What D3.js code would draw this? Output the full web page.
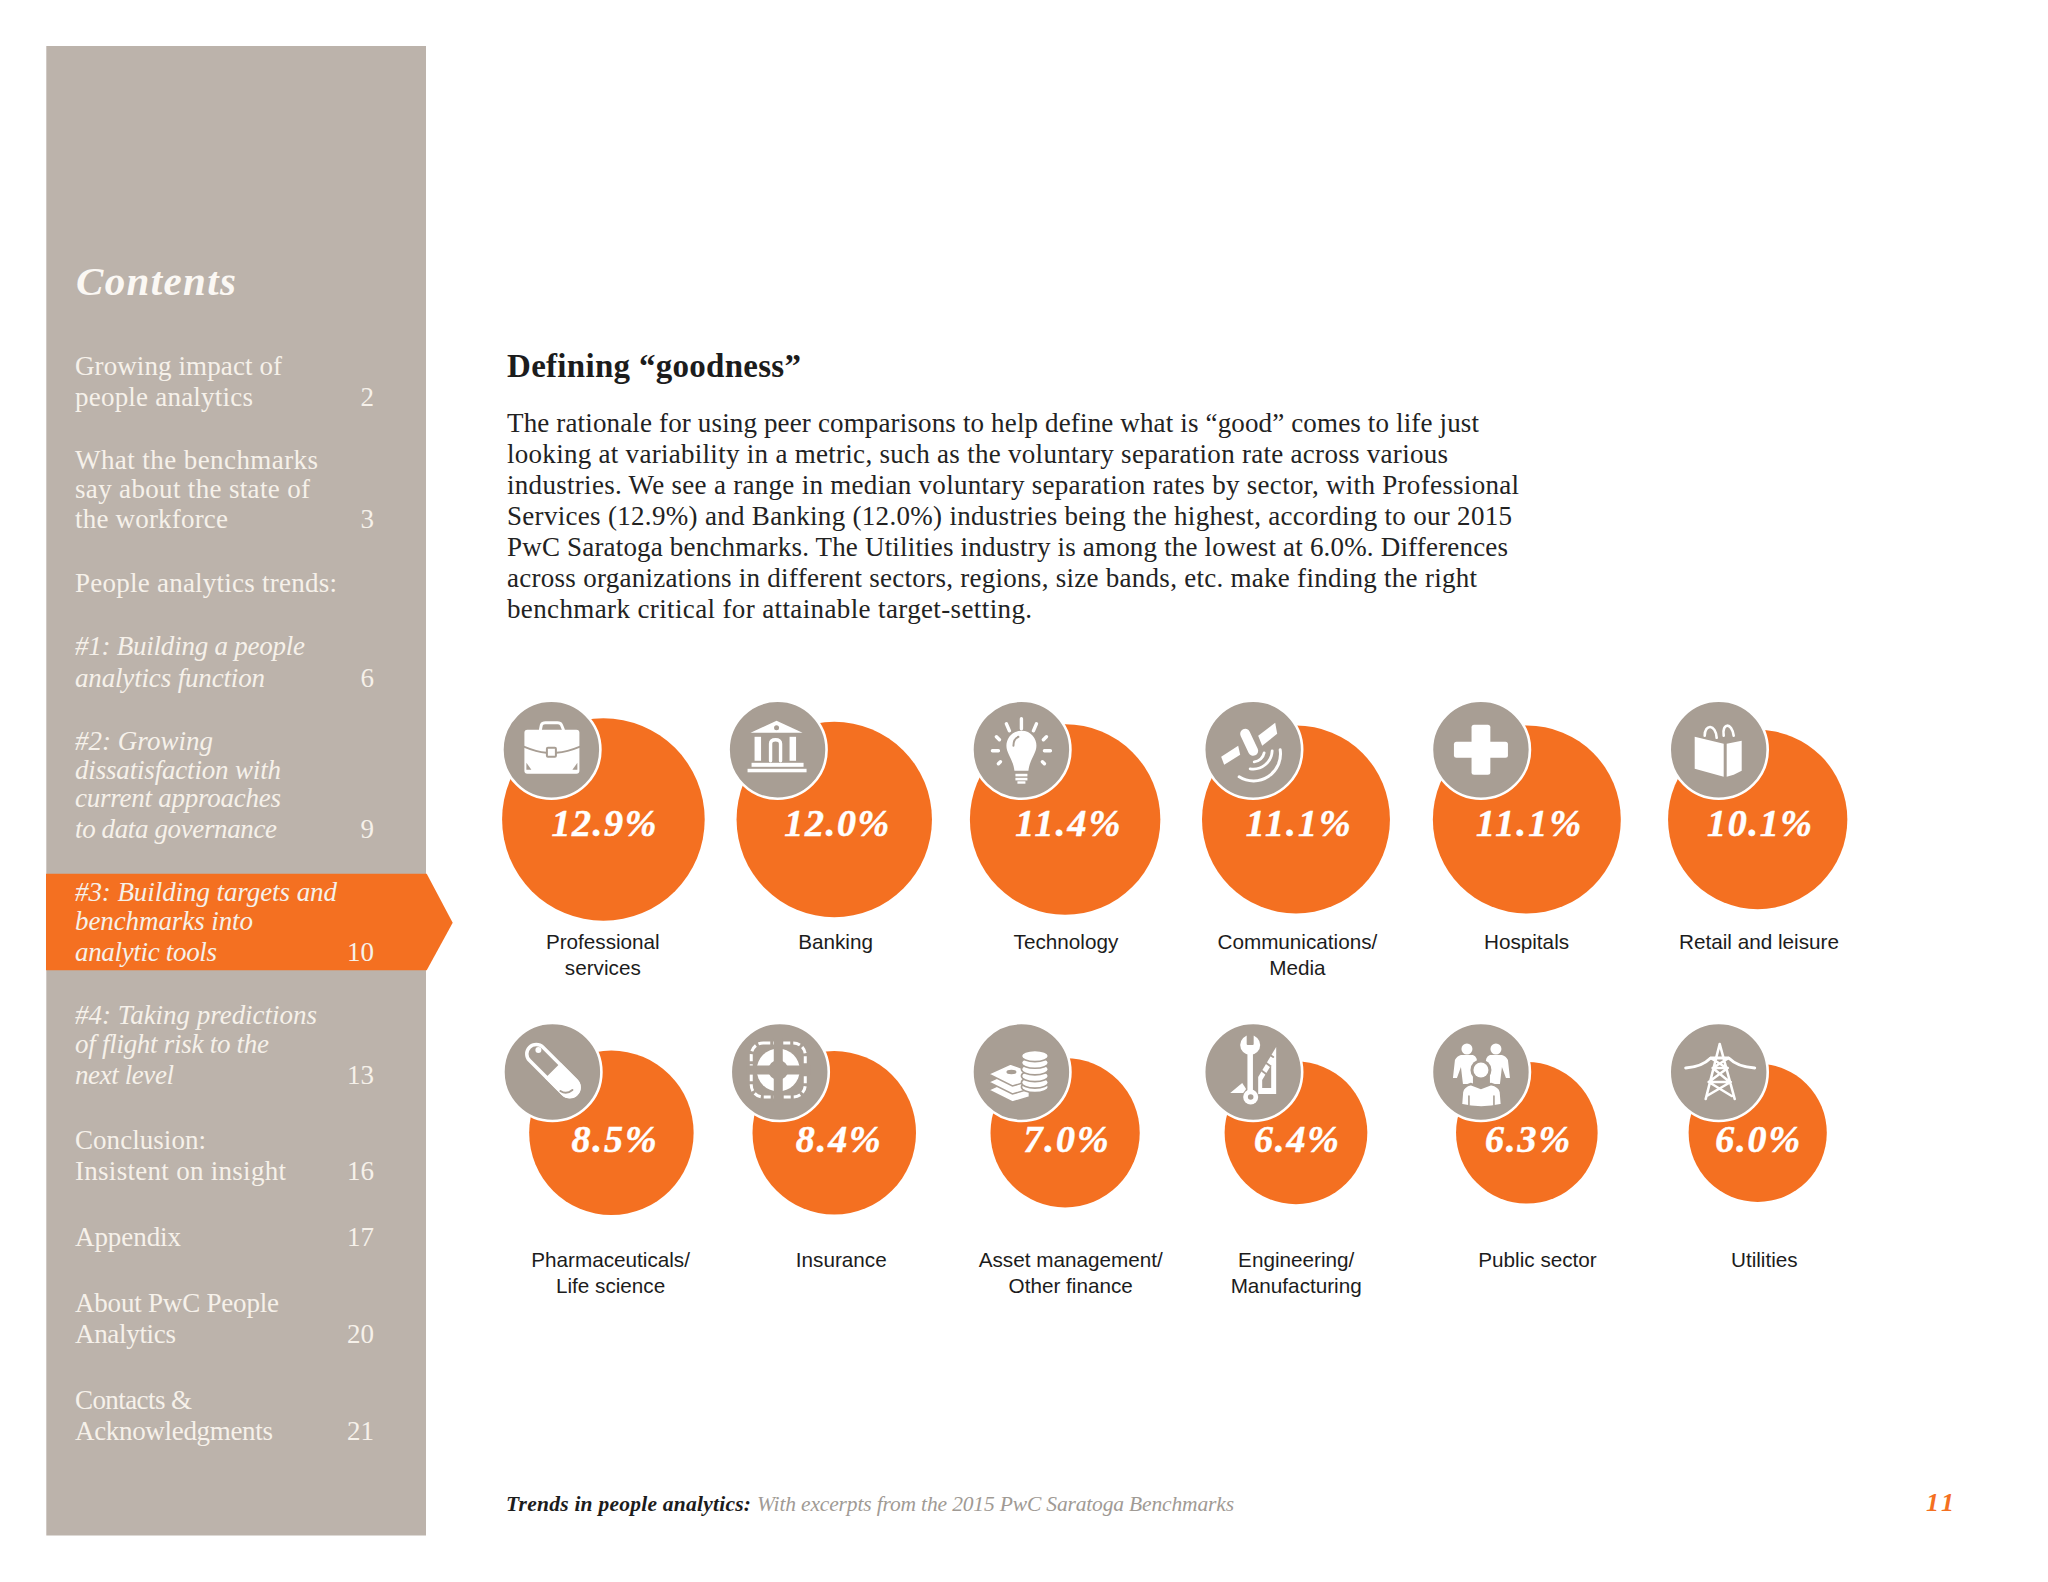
<!DOCTYPE html>
<html><head><meta charset="utf-8">
<script src="https://cdn.jsdelivr.net/npm/d3@7/dist/d3.min.js"></script>
<style>html,body{margin:0;padding:0;background:#fff}svg{display:block}</style>
</head><body><div id="chart"></div>
<script>
// ---------- data ----------
const categories = ["Professional services","Banking","Technology","Communications/ Media","Hospitals","Retail and leisure",
  "Pharmaceuticals/ Life science","Insurance","Asset management/ Other finance","Engineering/ Manufacturing","Public sector","Utilities"];
const labelLines = [["Professional","services"],["Banking"],["Technology"],["Communications/","Media"],["Hospitals"],["Retail and leisure"],
  ["Pharmaceuticals/","Life science"],["Insurance"],["Asset management/","Other finance"],["Engineering/","Manufacturing"],["Public sector"],["Utilities"]];
const values = [12.9,12.0,11.4,11.1,11.1,10.1,8.5,8.4,7.0,6.4,6.3,6.0];
const icons = ["briefcase","bank","bulb","satellite","plus","bag","pill","buoy","money","tools","people","tower"];
const headingText = "Defining “goodness”";
const bodyLines = [
 "The rationale for using peer comparisons to help define what is “good” comes to life just",
 "looking at variability in a metric, such as the voluntary separation rate across various",
 "industries. We see a range in median voluntary separation rates by sector, with Professional",
 "Services (12.9%) and Banking (12.0%) industries being the highest, according to our 2015",
 "PwC Saratoga benchmarks. The Utilities industry is among the lowest at 6.0%. Differences",
 "across organizations in different sectors, regions, size bands, etc. make finding the right",
 "benchmark critical for attainable target-setting."];
const tocLines = ["Growing impact of","people analytics","What the benchmarks","say about the state of","the workforce",
 "People analytics trends:","#1: Building a people","analytics function","#2: Growing","dissatisfaction with","current approaches",
 "to data governance","#3: Building targets and","benchmarks into","analytic tools","#4: Taking predictions","of flight risk to the",
 "next level","Conclusion:","Insistent on insight","Appendix","About PwC People","Analytics","Contacts &","Acknowledgments"];
const tocPages = ["","2","","","3","","","6","","","","9","","","10","","","13","","16","17","","20","","21"];
const tocItalic = [0,0,0,0,0,0,1,1,1,1,1,1,1,1,1,1,1,1,0,0,0,0,0,0,0];

// ---------- layout ----------
const tocBase = [375,406,469.3,497.7,528,591.7,655,686.5,750,778.5,806.7,837.7,901,929.5,960.5,1023.5,1052.5,1083.5,1149,1180,1246,1311.7,1342.7,1409,1440];
const tocW = [207,178,243,235,153,262,230,190,138,206,206,202,262,178,142,242,194,99,131,211,106,204,101,117,198];
const bodyW = [972,941,1012,1005,1001,970,525];
const bodyBase = [431.7,462.7,494,525,556,587,618];
const circleNudge = [0,0,0,0,0,0,8,0,0,0,0,0];
const iconDx = [-52,-56.7,-43.7,-42.8,-45.9,-39,-51,-54.5,-43.7,-42.8,-45.9,-39];
const valueDx = [0.5,2.5,2.7,2.3,1.7,1.8,2.7,4,1,0.5,0.7,0];
const labelDx = [-0.6,1.3,0.8,1.4,-0.3,1.3,-0.8,7,5.6,0.2,10.7,6.6];
const rowIconY = [749.8,1072], rowValueY = [835.5,1152], rowLabelY = [949,1266.7];
const ORANGE = "#f47021", SIDE = "#bcb3ab", ICON = "#a89e94", PALE = "#f6f1ea";
const SERIF = "'Liberation Serif',serif", SANS = "'Liberation Sans',Arial,sans-serif";

const svg = d3.select("#chart").append("svg").attr("width",2048).attr("height",1582).attr("viewBox","0 0 2048 1582");
const colX = d3.scalePoint().domain(d3.range(6)).range([603.4,1757.7]);
const rowY = d3.scalePoint().domain([0,1]).range([819.5,1132.8]);
const rScale = d3.scaleSqrt().domain([0,12.9]).range([0,101.3]);

// ---------- sidebar ----------
svg.append("rect").attr("x",46.3).attr("y",46).attr("width",379.7).attr("height",1489.5).attr("fill",SIDE);
svg.append("path").attr("d","M46,873.7H426.7L452.7,922.7L426.7,970.3H46Z").attr("fill",ORANGE);
svg.append("text").text("Contents").attr("x",76).attr("y",295).attr("textLength",160).attr("lengthAdjust","spacing")
  .attr("font-family",SERIF).attr("font-size",41).attr("font-weight",700).attr("font-style","italic").attr("fill","#fbf8f4");
const toc = svg.append("g").attr("font-family",SERIF).attr("font-size",27);
toc.selectAll("text.l").data(tocLines).join("text").attr("class","l").text(d=>d)
  .attr("x",75).attr("y",(d,i)=>tocBase[i]).attr("textLength",(d,i)=>tocW[i]).attr("lengthAdjust","spacing")
  .attr("font-style",(d,i)=>tocItalic[i]?"italic":"normal").attr("fill",PALE);
toc.selectAll("text.p").data(tocPages).join("text").attr("class","p").text(d=>d)
  .attr("x",374).attr("y",(d,i)=>tocBase[i]).attr("text-anchor","end").attr("fill",PALE);

// ---------- text block ----------
svg.append("text").text(headingText).attr("x",507).attr("y",377.3).attr("textLength",294).attr("lengthAdjust","spacing")
  .attr("font-family",SERIF).attr("font-size",33).attr("font-weight",700).attr("fill","#1c1c1c");
svg.append("g").attr("font-family",SERIF).attr("font-size",27).attr("fill","#222")
  .selectAll("text").data(bodyLines).join("text").text(d=>d)
  .attr("x",507).attr("y",(d,i)=>bodyBase[i]).attr("textLength",(d,i)=>bodyW[i]).attr("lengthAdjust","spacing");

// ---------- icons ----------
const W = "#fff";
const P = (g,d,fill=W)=>g.append("path").attr("d",d).attr("fill",fill);
const S = (g,d,w,stroke=W)=>g.append("path").attr("d",d).attr("fill","none").attr("stroke",stroke).attr("stroke-width",w).attr("stroke-linecap","round").attr("stroke-linejoin","round");
const C = (g,x,y,r,fill=W)=>g.append("circle").attr("cx",x).attr("cy",y).attr("r",r).attr("fill",fill);
const R = (g,x,y,w,h,rx=0,fill=W)=>g.append("rect").attr("x",x).attr("y",y).attr("width",w).attr("height",h).attr("rx",rx).attr("fill",fill);
const drawIcon = {
  briefcase(g){
    S(g,"M-11,-20L-10,-25Q-9,-27 -6,-27H6Q9,-27 10,-25L12,-20",3);
    R(g,-27,-20,55,44,3);
    S(g,"M-27,-3Q-15,2 -5,3M5,3Q16,2 28,-3",2,ICON);
    R(g,-4.5,-2,9,9,1,W).attr("stroke",ICON).attr("stroke-width",2);
    P(g,"M-25,20L-25,13L-20,20Z",ICON); P(g,"M26,20L26,13L21,20Z",ICON);
  },
  bank(g){
    P(g,"M-1,-29L25,-17H-27Z"); C(g,-1,-22,2.5,ICON);
    R(g,-23,-13,6.5,24); R(g,12,-13,6.5,24);
    S(g,"M-7,11V-6Q-7,-10 -2,-10Q3,-10 3,-6V11",3.4);
    R(g,-26,13,52,4); R(g,-30,19,59,3.5);
  },
  bulb(g){
    P(g,"M0,-19C-10,-19 -15,-11 -15,-4C-15,4 -8,10 -7,21H7C8,10 15,4 15,-4C15,-11 10,-19 0,-19Z");
    S(g,"M-8,-4Q-8,-11 -3,-13",2,ICON);
    R(g,-6,24,12,2.6); R(g,-6,28,12,2.6); R(g,-4,31.5,8,2.4);
    S(g,"M0,-31V-21M-15,-26L-12,-19M15,-26L12,-19M-25,-13L-22,-10M25,-13L22,-10M-29,1H-23M29,1H23M-23,14L-21,12M23,14L21,12",3.4);
  },
  satellite(g){
    P(g,"M5,-14L22,-27L24,-16L9,-4Z"); P(g,"M-32,7L-15,-4L-13,5L-29,15Z");
    S(g,"M-8,-16L0,1",10);
    S(g,"M11,3A11,11 0 0 1 1,12",2.8); S(g,"M19,1A19,19 0 0 1 -3,19",2.8); S(g,"M27,0A27,27 0 0 1 -14,27",3);
  },
  plus(g){ R(g,-27,-8,54,16,2.5); R(g,-9.4,-25,18.8,50,2.5); },
  bag(g){
    S(g,"M-14,-14C-14,-26 -3,-26 -2,-12M5,-14C3,-27 13,-28 15,-14",2.6);
    P(g,"M-24,-13L5,-6V27L-24,19Z"); P(g,"M8,-6L23,-9V21L15,25L8,27Z");
  },
  pill(g){
    const c = g.append("g").attr("transform","translate(0.5,-1.5) rotate(45)");
    R(c,-33,-9.5,66,19,9.5).attr("fill","none").attr("stroke",W).attr("stroke-width",3.5);
    P(c,"M0,-11H24A11,11 0 0 1 24,11H0Z");
    C(g,-14,-22,3);
    S(g,"M8,19Q14,23 20,18",2,ICON);
  },
  buoy(g){
    const c = g.append("g").attr("transform","translate(-1.5,-2)");
    R(c,-27,-27,54,54,12).attr("fill","none").attr("stroke",W).attr("stroke-width",3).attr("stroke-dasharray","7 3");
    C(c,0,0,21.5,W);
    R(c,-4.5,-32,9,64,0,ICON); R(c,-32,-4.5,64,9,0,ICON);
    C(c,0,0,10,ICON);
  },
  money(g){
    [16,8,0].forEach(dy=>{
      P(g,`M-33,${2+dy}L-11,${-8+dy}L8,${-1+dy}V${9+dy}L-9,${14+dy}Z`).attr("stroke",ICON).attr("stroke-width",1.5);
    });
    g.append("ellipse").attr("cx",-10).attr("cy",0).attr("rx",5).attr("ry",2.2).attr("fill",ICON);
    [15,10.5,4,-2.7,-9.3,-16].forEach(y=>{
      g.append("ellipse").attr("cx",13.5).attr("cy",y).attr("rx",13.5).attr("ry",5.6).attr("fill",W).attr("stroke",ICON).attr("stroke-width",1.6);
    });
  },
  tools(g){
    P(g,"M23,-25V22H5V5Z");
    P(g,"M18,-7V16H9V8Z",ICON);
    S(g,"M9,-1L13,2M13,-9L17,-6M17,-17L20,-15",2,ICON);
    P(g,"M-23,21L-11,11L-7,17L-10,21Z");
    R(g,-6.5,-22,7,46,0,W).attr("stroke",ICON).attr("stroke-width",1.5);
    C(g,-3,-27,10); R(g,-6.5,-42,7,15,1,ICON);
    C(g,-2.5,25,7.5); C(g,-2.5,25,2.8,ICON);
  },
  people(g){
    C(g,-14,-23,5.5); C(g,15,-23,5.5);
    const back = "M-28,6L-26,-12Q-24,-16 -20,-17H-8Q-3,-15 -4,-8L-8,0V12H-18L-20,-5L-24,6Z";
    P(g,back); P(g,back).attr("transform","translate(1,0) scale(-1,1)");
    C(g,0,-2,10.5,ICON); C(g,0,-2,7.5);
    P(g,"M-20,33L-19,20Q-18,14 -10,12L0,16L10,12Q19,14 20,20L21,33Q0,38 -20,33Z").attr("stroke",ICON).attr("stroke-width",2.5);
    S(g,"M-12,24V33M13,24V33",1.6,ICON);
  },
  tower(g){
    S(g,"M-33,-4Q-17,-5 -8,-14H10Q19,-5 36,-4",3);
    S(g,"M1,-28L-13,27M1,-28L16,27M-8,-14L8,-4M10,-14L-6,-4M-6,-4L11,10M9,-4L-10,10M-10,10L13,24M12,10L-12,24M-6,-4H9M-10,10H12",2.6);
  }
};

// ---------- bubbles ----------
const items = values.map((v,i)=>({v,i,cat:categories[i],col:i%6,row:Math.floor(i/6)}));
const plot = svg.append("g");
plot.selectAll("circle.bubble").data(items).join("circle").attr("class","bubble")
  .attr("cx",d=>colX(d.col)+circleNudge[d.i]).attr("cy",d=>rowY(d.row)).attr("r",d=>rScale(d.v)).attr("fill",ORANGE);

plot.selectAll("g.icon").data(items).join("g").attr("class","icon")
  .attr("transform",d=>`translate(${colX(d.col)+iconDx[d.i]},${rowIconY[d.row]})`)
  .each(function(d){
    const g = d3.select(this);
    g.append("circle").attr("r",49).attr("fill",ICON).attr("stroke","#fff").attr("stroke-width",2.6);
    drawIcon[icons[d.i]](g);
  });

plot.selectAll("text.value").data(items).join("text").attr("class","value").text(d=>d.v.toFixed(1)+"%")
  .attr("x",d=>colX(d.col)+circleNudge[d.i]+valueDx[d.i]).attr("y",d=>rowValueY[d.row]).attr("text-anchor","middle")
  .attr("textLength",d=>d.v>=10?105:85).attr("lengthAdjust","spacing")
  .attr("font-family",SERIF).attr("font-size",38).attr("font-weight",700).attr("font-style","italic")
  .attr("fill","#fff").attr("stroke","#fff").attr("stroke-width",0.5);

plot.selectAll("text.cat").data(items).join("text").attr("class","cat")
  .attr("text-anchor","middle").attr("font-family",SANS).attr("font-size",20.7).attr("fill","#1c1c1c")
  .each(function(d){
    d3.select(this).selectAll("tspan").data(labelLines[d.i]).join("tspan").text(t=>t)
      .attr("x",colX(d.col)+circleNudge[d.i]+labelDx[d.i]).attr("y",(t,j)=>rowLabelY[d.row]+j*26);
  });

// ---------- footer ----------
const foot = svg.append("g").attr("font-family",SERIF).attr("font-style","italic").attr("font-size",21.5);
foot.append("text").text("Trends in people analytics:").attr("x",506).attr("y",1510.7).attr("textLength",245).attr("lengthAdjust","spacing").attr("font-weight",700).attr("fill","#1c1c1c");
foot.append("text").text("With excerpts from the 2015 PwC Saratoga Benchmarks").attr("x",757).attr("y",1510.7).attr("textLength",477).attr("lengthAdjust","spacing").attr("fill","#a09a94");
foot.append("text").text("11").attr("x",1926).attr("y",1510.7).attr("textLength",28).attr("lengthAdjust","spacing").attr("font-size",26).attr("font-weight",700).attr("fill",ORANGE);
</script></body></html>
